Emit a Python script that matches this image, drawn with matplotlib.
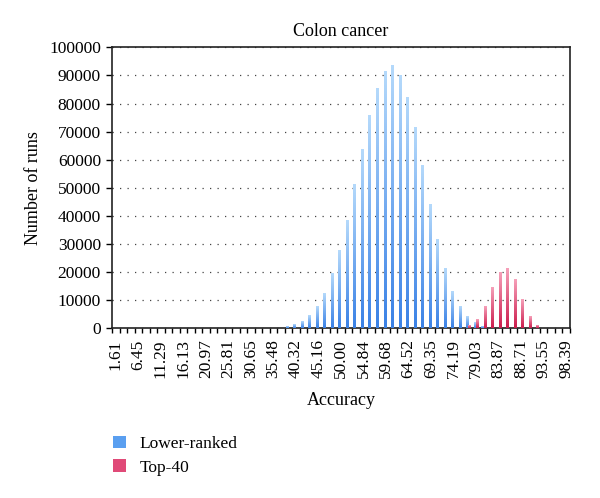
import numpy as np
import matplotlib
matplotlib.use("Agg")
import matplotlib.pyplot as plt
from matplotlib.patches import Patch
from matplotlib.colors import LinearSegmentedColormap

plt.rcParams["font.family"] = ["Liberation Serif", "DejaVu Serif"]

# accuracy classes k/62 (62 colon samples), k = 1..61
accuracy = np.arange(1, 62) / 62 * 100
tick_labels = ["1.61", "6.45", "11.29", "16.13", "20.97", "25.81", "30.65",
               "35.48", "40.32", "45.16", "50.00", "54.84", "59.68", "64.52",
               "69.35", "74.19", "79.03", "83.87", "88.71", "93.55", "98.39"]

lower_ranked = [0] * 23 + [
    500, 1300, 2400, 4500, 7600, 12400, 19300, 27700, 38300, 51000,
    63600, 75600, 85200, 91300, 93600, 89900, 82100, 71200, 57900, 43800,
    31500, 21000, 13100, 7600, 4200, 1900, 700] + [0] * 11
top40 = [0] * 47 + [950, 2900, 7600, 14300, 19900, 21300, 17100, 10100,
                    4200, 950] + [0] * 4

BLUE_TOP, BLUE_BOT = "#b4d9fb", "#3b82e6"
PINK_TOP, PINK_BOT = "#f6a0b9", "#cc1d4d"


def gradient_fill(ax, bars, top, bottom):
    cmap = LinearSegmentedColormap.from_list("grad", [bottom, top])
    grad = np.linspace(0, 1, 64).reshape(-1, 1)
    for b in bars:
        h = b.get_height()
        if h <= 0:
            continue
        x0 = b.get_x()
        ax.imshow(grad, cmap=cmap, origin="lower", aspect="auto",
                  interpolation="bilinear",
                  extent=(x0, x0 + b.get_width(), 0, h), zorder=3)


fig = plt.figure(figsize=(6, 4.98), dpi=100)
ax = fig.add_axes([0.1867, 0.3408, 0.7633, 0.5642])

idx = np.arange(len(accuracy))
w = 0.28
b1 = ax.bar(idx - 0.2, lower_ranked, width=w, color="#5a9ff0", zorder=2)
b2 = ax.bar(idx + 0.12, top40, width=w, color="#e04a78", zorder=2)
gradient_fill(ax, b1, BLUE_TOP, BLUE_BOT)
gradient_fill(ax, b2, PINK_TOP, PINK_BOT)

ax.set_xlim(-0.5, len(accuracy) - 0.5)
ax.set_ylim(0, 100000)

ax.set_xticks(idx[::3])
ax.set_xticklabels(tick_labels, rotation=90)
ax.set_xticks(np.arange(len(accuracy) + 1) - 0.5, minor=True)
ax.tick_params(axis="x", which="major", length=0, pad=8, labelsize=12.5)
ax.tick_params(axis="x", which="minor", length=3.5, width=1, direction="out")
ax.set_yticks(np.arange(0, 100001, 10000))
ax.tick_params(axis="y", length=4, width=1, direction="out", pad=4,
               labelsize=12.5)

ax.yaxis.grid(True, linestyle=(0, (1, 5)), color="#444444", lw=0.9)
ax.set_axisbelow(True)
for s in ax.spines.values():
    s.set_linewidth(1.2)
    s.set_color("#222222")

ax.set_title("Colon cancer", fontsize=13, pad=8)
ax.set_xlabel("Accuracy", fontsize=13, labelpad=10)
ax.set_ylabel("Number of runs", fontsize=13, labelpad=5)

handles = [Patch(facecolor="#5a9ff0", label="Lower-ranked"),
           Patch(facecolor="#e04a78", label="Top-40")]
fig.legend(handles=handles, loc="upper left", bbox_to_anchor=(0.189, 0.125),
           frameon=False, fontsize=12.5, handlelength=0.75, handleheight=0.75,
           handletextpad=0.75, labelspacing=0.4, borderpad=0, borderaxespad=0)

fig.savefig("out.png", dpi=100)
